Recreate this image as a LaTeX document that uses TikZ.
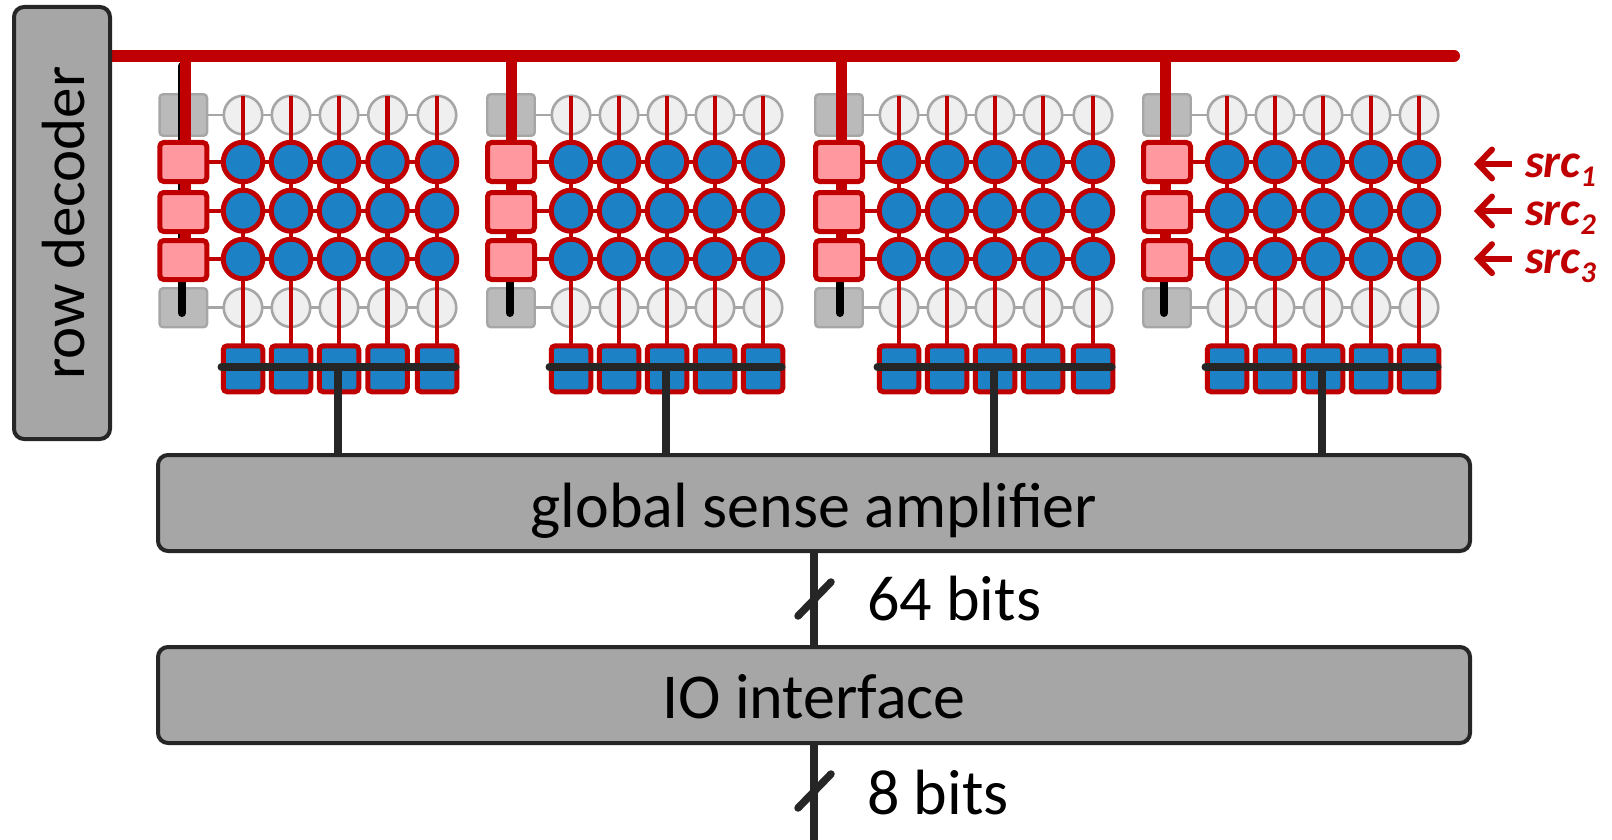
\documentclass[tikz,border=0pt]{standalone}
\usepackage{fontspec}
\setmainfont{Carlito}
\usetikzlibrary{shapes.geometric,calc}
\definecolor{cred}{HTML}{C00000}
\definecolor{cblue}{HTML}{1C82C5}
\definecolor{cpink}{HTML}{FF999F}
\definecolor{cgrayfill}{HTML}{BABABA}
\definecolor{cgrayline}{HTML}{A6A6A6}
\definecolor{clight}{HTML}{EFEFEF}
\definecolor{cbox}{HTML}{A6A6A6}
\definecolor{cdark}{HTML}{262626}
\pgfdeclarelayer{graylines}
\pgfdeclarelayer{grayshapes}
\pgfdeclarelayer{redlines}
\pgfdeclarelayer{toplines}
\pgfsetlayers{graylines,grayshapes,redlines,main,toplines}
\tikzset{
  bigbox/.style={draw=cdark,fill=cbox,line width=4pt,rounded corners=10pt,inner sep=0pt,outer sep=0pt,font=\fontsize{64}{64}\selectfont,text=black},
  graycell/.style={ellipse,draw=cgrayline,fill=clight,line width=2.6pt,minimum width=38.5pt,minimum height=38.5pt,inner sep=0pt,outer sep=0pt},
  bluecell/.style={ellipse,draw=cred,fill=cblue,line width=5pt,minimum width=39.5pt,minimum height=39.5pt,inner sep=0pt,outer sep=0pt},
  graydrv/.style={rectangle,draw=cgrayline,fill=cgrayfill,line width=2.4pt,rounded corners=3.5pt,minimum width=47.5pt,inner sep=0pt,outer sep=0pt},
  pinkdrv/.style={rectangle,draw=cred,fill=cpink,line width=5pt,rounded corners=4pt,minimum width=47pt,minimum height=39pt,inner sep=0pt,outer sep=0pt},
  bluesq/.style={rectangle,draw=cred,fill=cblue,line width=5pt,rounded corners=4pt,minimum width=39.5pt,minimum height=46pt,inner sep=0pt,outer sep=0pt},
  redwire/.style={draw=cred,line width=4.4pt},
  graywire/.style={draw=cgrayline,line width=2.6pt},
  darkwire/.style={draw=cdark,line width=8.5pt},
  slashmark/.style={draw=cdark,line width=7.5pt,line cap=round},
  plainlabel/.style={anchor=base west,inner sep=0pt,outer sep=0pt,font=\fontsize{64}{64}\selectfont,text=black},
  srclabel/.style={anchor=base west,inner sep=0pt,outer sep=0pt,font=\fontsize{48}{48}\selectfont\bfseries\itshape,text=cred},
  srcarrow/.style={draw=cred,line width=6pt},
}
\newcommand{\srcsub}[1]{\raisebox{-9.5pt}{\fontsize{30}{30}\selectfont #1}}
\begin{document}
\begin{tikzpicture}[x=1pt,y=-1pt]
\useasboundingbox (0,0) rectangle (1612,840);
% big boxes
\node[bigbox,rotate=90,minimum width=432pt,minimum height=96pt,text height=44pt,text depth=0pt,font=\fontsize{61}{61}\selectfont] (rowdec) at (62,223) {row decoder};
\node[bigbox,minimum width=1312pt,minimum height=96pt,text height=48pt,text depth=0pt] (gsa) at (814,503) {global sense amplifier};
\node[bigbox,minimum width=1312pt,minimum height=96pt,text height=46pt,text depth=0pt] (io) at (814,695) {IO interface};
% bus
\coordinate (busL) at (112,56);
\coordinate (busR) at (1454,56);
\begin{pgfonlayer}{redlines}
\draw[draw=cred,line width=12pt,line cap=round] (busL) -- (busR);
\end{pgfonlayer}
% groups
\foreach \g/\px/\sx/\bx/\tapx/\ca/\cb/\cc/\cd/\ce in {
  1/183.3/185.5/182/338/243/291/339/387.5/437,
  2/511/511/510/666/571/619/667/715/763,
  3/839/841/840/994/899/947/995/1043/1093,
  4/1167/1165/1164/1322/1227/1275/1323/1371/1419}{
  \begin{pgfonlayer}{grayshapes}
    \node[graydrv,minimum height=41.5pt] (gt\g) at (\px,115) {};
    \node[graydrv,minimum height=39pt] (gb\g) at (\px,307.7) {};
  \end{pgfonlayer}
  \node[pinkdrv] (p1-\g) at (\px,162) {};
  \node[pinkdrv] (p2-\g) at (\px,212) {};
  \node[pinkdrv] (p3-\g) at (\px,260) {};
  \foreach \k/\cx in {1/\ca,2/\cb,3/\cc,4/\cd,5/\ce}{
    \begin{pgfonlayer}{grayshapes}
      \node[graycell] (ct-\g-\k) at (\cx,115) {};
      \node[graycell] (cb-\g-\k) at (\cx,307.7) {};
    \end{pgfonlayer}
    \node[bluecell] (c1-\g-\k) at (\cx,162) {};
    \node[bluecell,minimum height=41pt] (c2-\g-\k) at (\cx,210.7) {};
    \node[bluecell] (c3-\g-\k) at (\cx,259) {};
    \node[bluesq] (sq-\g-\k) at (\cx,368.8) {};
    \begin{pgfonlayer}{redlines}
      \draw[redwire] (ct-\g-\k.north) -- ([yshift=-2.5pt]sq-\g-\k.north);
    \end{pgfonlayer}
  }
  \begin{pgfonlayer}{graylines}
    \draw[graywire] (gt\g) -- (ct-\g-5);
    \draw[graywire] (gb\g) -- (cb-\g-5);
  \end{pgfonlayer}
  \coordinate (blk-\g) at (\bx,313);
  \coordinate (blktop-\g) at (\bx,66);
  \coordinate (stub-\g) at (\sx,56);
  \coordinate (stubend-\g) at (\sx,262);
  \begin{pgfonlayer}{redlines}
    \draw[redwire] (p1-\g) -- (c1-\g-5);
    \draw[redwire] (p2-\g.center |- c2-\g-1.center) -- (c2-\g-5);
    \draw[redwire] (p3-\g.center |- c3-\g-1.center) -- (c3-\g-5);
    \draw[draw=black,line width=8pt,line cap=round] (blktop-\g) -- (blk-\g);
    \draw[draw=cred,line width=11pt] (stub-\g) -- (stubend-\g);
  \end{pgfonlayer}
  \coordinate (hbL-\g) at ($(sq-\g-1.center)+(-21.5,-1.8)$);
  \coordinate (hbR-\g) at ($(sq-\g-5.center)+(18.5,-1.8)$);
  \coordinate (tap-\g) at (\tapx,367);
  \begin{pgfonlayer}{toplines}
    \draw[draw=cdark,line width=8pt,line cap=round] (hbL-\g) -- (hbR-\g);
    \draw[darkwire] (tap-\g) -- (tap-\g |- gsa.north);
  \end{pgfonlayer}
}
% source arrows and labels
\foreach \i/\ya/\yb in {1/164/177,2/211/225,3/258.7/273}{
  \coordinate (at-\i) at (1478,\ya);
  \coordinate (ae-\i) at (1512,\ya);
  \coordinate (au-\i) at (1492,\ya-14.5);
  \coordinate (ad-\i) at (1492,\ya+14.5);
  \draw[srcarrow] (at-\i) -- (ae-\i);
  \draw[srcarrow,line cap=round,miter limit=10] (au-\i) -- (at-\i) -- (ad-\i);
  \node[srclabel] (src-\i) at (1525,\yb) {src\srcsub{\i}};
}
% bus connectors to the IO interface
\coordinate (outend) at (814,840);
\draw[darkwire] (gsa.south) -- (io.north);
\draw[darkwire] (io.south) -- (outend);
\coordinate (s1a) at (798,616);
\coordinate (s1b) at (831,582);
\coordinate (s2a) at (798,808);
\coordinate (s2b) at (831,774);
\draw[slashmark] (s1a) -- (s1b);
\draw[slashmark] (s2a) -- (s2b);
\node[plainlabel] (l64) at (867,620.7) {64 bits};
\node[plainlabel] (l8) at (867,814) {8 bits};
\end{tikzpicture}
\end{document}
